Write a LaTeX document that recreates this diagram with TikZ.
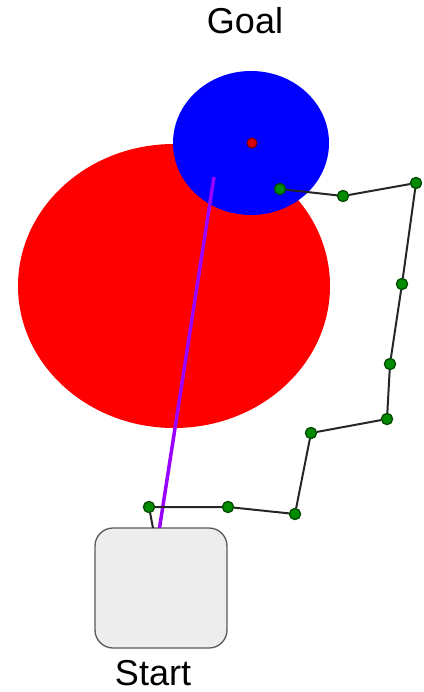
\documentclass[tikz,border=0pt]{standalone}
\usepackage{fontspec}
\setmainfont{Liberation Sans}
\begin{document}
\begin{tikzpicture}[x=1pt,y=-1pt,
  wp/.style={circle,draw=green!30!black,fill=green!55!black,line width=1.2pt,inner sep=0pt,minimum size=11pt},
  lbl/.style={font=\fontsize{36}{40}\selectfont,inner sep=0pt}]
\useasboundingbox (0,0) rectangle (423,692);
\fill[red] (174,286) ellipse [x radius=156, y radius=142];
\fill[blue] (251,143) ellipse [x radius=78, y radius=72];
\node[circle,fill=red!85!black,draw=red!50!black,line width=1pt,inner sep=0pt,minimum size=10pt] (goalpt) at (252,143) {};
\node[draw=black!65,fill=black!7,rounded corners=18pt,line width=1.3pt,minimum width=132pt,minimum height=120pt,inner sep=0pt] (start) at (161,588) {};
\coordinate (ps) at (214,177);
\coordinate (pe) at (159.5,528);
\draw[line width=3.5pt,color={rgb,255:red,153;green,0;blue,255}] (ps) -- (pe);
\coordinate (b0) at (153,528);
\node[wp] (w1) at (149,507) {};
\node[wp] (w2) at (228,507) {};
\node[wp] (w3) at (295,514) {};
\node[wp] (w4) at (311,433) {};
\node[wp] (w5) at (387,419) {};
\node[wp] (w6) at (390,364) {};
\node[wp] (w7) at (402,284) {};
\node[wp] (w8) at (416,183) {};
\node[wp] (w9) at (343,196) {};
\node[wp] (w10) at (280,189) {};
\draw[line width=2pt,black!85] (b0) -- (w1) -- (w2) -- (w3) -- (w4) -- (w5) -- (w6) -- (w7) -- (w8) -- (w9) -- (w10);
\foreach \i in {1,...,10} \node[wp] at (w\i) {};
\node[lbl] (goal) at (245,21) {Goal};
\node[lbl] (startlbl) at (153,673) {Start};
\end{tikzpicture}
\end{document}
